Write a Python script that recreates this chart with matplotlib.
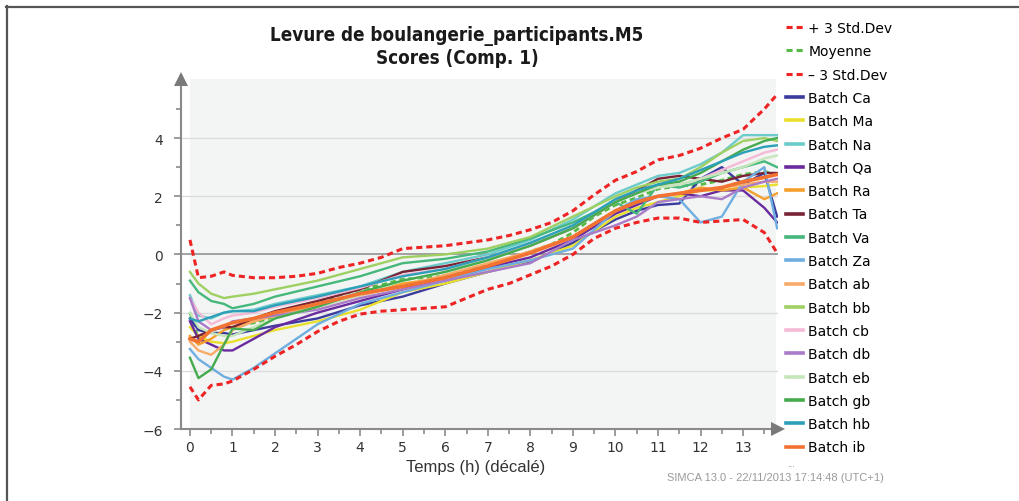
import matplotlib
matplotlib.use("Agg")
import matplotlib.pyplot as plt
from matplotlib.lines import Line2D
from matplotlib.patches import Rectangle

# control limits (read on a finer time grid)
limit_t = [0, 0.2, 0.5, 0.8, 1, 1.5, 2, 2.5, 3, 3.5, 4, 4.5, 5, 5.5, 6, 6.5, 7,
           7.5, 8, 8.5, 9, 9.5, 10, 10.5, 11, 11.5, 12, 12.5, 13, 13.5, 13.8]
upper = [0.5, -0.8, -0.75, -0.6, -0.72, -0.8, -0.8, -0.75, -0.65, -0.45, -0.3, -0.1, 0.2,
         0.25, 0.3, 0.4, 0.5, 0.65, 0.85, 1.1, 1.5, 2.05, 2.55, 2.85, 3.25, 3.4, 3.65,
         4.0, 4.3, 5.0, 5.5]
mean = [-2.0, -2.9, -2.6, -2.5, -2.5, -2.35, -2.15, -1.95, -1.7, -1.4, -1.2, -1.05, -0.85,
        -0.8, -0.75, -0.55, -0.35, -0.15, 0.1, 0.35, 0.75, 1.3, 1.7, 1.95, 2.25, 2.35,
        2.4, 2.55, 2.75, 2.85, 2.75]
lower = [-4.55, -5.0, -4.5, -4.45, -4.35, -3.95, -3.5, -3.1, -2.65, -2.3, -2.05, -1.95,
         -1.9, -1.85, -1.8, -1.5, -1.2, -1.0, -0.7, -0.4, 0.0, 0.55, 0.9, 1.1, 1.25, 1.25,
         1.1, 1.15, 1.2, 0.75, 0.05]

# batch trajectories
batch_t = [0, 0.2, 0.5, 0.8, 1, 1.5, 2, 3, 4, 5, 6, 7, 8, 9, 10, 10.5, 11, 11.5, 12,
           12.5, 13, 13.5, 13.8]
batch_names = ["Batch Ca", "Batch Ma", "Batch Na", "Batch Qa", "Batch Ra", "Batch Ta",
               "Batch Va", "Batch Za", "Batch ab", "Batch bb", "Batch cb", "Batch db",
               "Batch eb", "Batch gb", "Batch hb", "Batch ib"]
batch_colors = ["#3b3c9e", "#e8e02c", "#6ccbcb", "#6a2b9e", "#f5a02c", "#7a2236",
                "#46b87c", "#6eaee0", "#f8ab68", "#9ed062", "#f5bad5", "#a97bc9",
                "#c5e5ba", "#46ab4e", "#2c9fb9", "#f27232"]
batch_values = [
    [-2.2, -2.6, -2.7, -2.7, -2.75, -2.6, -2.45, -2.2, -1.75, -1.45, -1.0, -0.6, -0.25,
     0.4, 1.2, 1.5, 1.7, 1.75, 2.6, 3.0, 2.4, 2.8, 1.3],
    [-2.5, -2.8, -3.0, -3.05, -3.0, -2.8, -2.6, -2.3, -1.9, -1.3, -1.0, -0.6, -0.2,
     0.3, 1.3, 1.6, 1.8, 2.0, 2.2, 2.2, 2.3, 2.35, 2.4],
    [-1.4, -2.1, -2.2, -2.0, -1.95, -1.9, -1.7, -1.4, -1.1, -0.6, -0.3, 0.0, 0.5,
     1.2, 2.1, 2.4, 2.7, 2.8, 3.1, 3.5, 4.1, 4.1, 4.1],
    [-2.3, -2.9, -3.1, -3.3, -3.3, -2.9, -2.5, -2.0, -1.6, -1.2, -0.8, -0.45, -0.1,
     0.5, 1.4, 1.7, 2.0, 2.1, 2.0, 2.2, 2.2, 1.6, 1.1],
    [-2.8, -3.1, -2.9, -2.6, -2.5, -2.3, -2.1, -1.7, -1.4, -1.0, -0.8, -0.4, 0.1,
     0.6, 1.5, 1.8, 2.0, 2.1, 2.3, 2.2, 2.3, 1.9, 2.1],
    [-2.9, -2.8, -2.6, -2.5, -2.5, -2.2, -1.95, -1.6, -1.2, -0.6, -0.4, -0.1, 0.3,
     0.9, 1.8, 2.2, 2.6, 2.7, 2.6, 2.5, 2.7, 2.8, 2.8],
    [-0.9, -1.3, -1.6, -1.7, -1.85, -1.7, -1.45, -1.1, -0.75, -0.3, -0.15, 0.1, 0.55,
     1.1, 1.8, 1.4, 2.4, 2.3, 2.5, 2.8, 3.0, 3.2, 3.0],
    [-3.25, -3.6, -3.9, -4.2, -4.3, -3.9, -3.4, -2.4, -1.7, -1.3, -0.9, -0.5, -0.2,
     0.2, 1.5, 1.9, 2.0, 1.9, 1.1, 1.3, 2.5, 3.0, 0.9],
    [-3.0, -3.3, -3.45, -3.1, -2.6, -2.3, -2.1, -1.8, -1.4, -1.1, -0.7, -0.3, 0.1,
     0.6, 1.5, 1.8, 2.0, 2.1, 2.2, 2.3, 2.4, 2.5, 2.5],
    [-0.6, -1.0, -1.35, -1.5, -1.45, -1.35, -1.2, -0.9, -0.5, -0.1, 0.0, 0.2, 0.6,
     1.3, 2.0, 2.3, 2.5, 2.6, 3.0, 3.5, 3.9, 4.0, 3.9],
    [-1.5, -2.0, -2.4, -2.2, -2.1, -2.0, -1.8, -1.5, -1.15, -0.7, -0.5, -0.1, 0.35,
     0.9, 1.8, 2.1, 2.3, 2.4, 2.6, 2.9, 3.2, 3.5, 3.6],
    [-1.5, -2.3, -2.6, -2.5, -2.3, -2.2, -2.1, -1.9, -1.5, -1.2, -0.9, -0.6, -0.3,
     0.5, 1.0, 1.3, 1.8, 1.9, 2.0, 1.9, 2.3, 2.5, 2.6],
    [-2.0, -2.5, -2.7, -2.8, -2.8, -2.5, -2.2, -1.8, -1.4, -0.9, -0.6, -0.2, 0.3,
     0.9, 1.8, 2.1, 2.3, 2.4, 2.6, 2.8, 3.0, 3.3, 3.4],
    [-3.55, -4.25, -3.95, -3.1, -2.55, -2.6, -2.2, -1.8, -1.3, -0.9, -0.6, -0.2, 0.3,
     0.9, 1.8, 2.1, 2.4, 2.5, 2.8, 3.2, 3.6, 3.9, 4.0],
    [-2.2, -2.3, -2.15, -2.0, -1.95, -1.95, -1.75, -1.45, -1.1, -0.75, -0.5, -0.1, 0.4,
     1.0, 1.9, 2.2, 2.4, 2.6, 2.9, 3.2, 3.5, 3.7, 3.75],
    [-2.9, -3.0, -2.6, -2.45, -2.35, -2.2, -2.0, -1.7, -1.35, -1.1, -0.8, -0.4, 0.05,
     0.6, 1.5, 1.8, 2.0, 2.1, 2.2, 2.3, 2.5, 2.65, 2.75],
]

x_ticks = list(range(0, 14))
y_ticks = [-6, -4, -2, 0, 2, 4]

fig = plt.figure(figsize=(10.19, 5.02), dpi=100)
ax = fig.add_axes([181 / 1019, 1 - 430 / 502, 597 / 1019, 350 / 502])
ax.set_xlim(-0.21, 13.82)
ax.set_ylim(-6, 6.03)
ax.set_facecolor("white")

ax.add_patch(Rectangle((0, -6), 13.77, 12.03, facecolor="#f3f4f4", edgecolor="none", zorder=0))
for gy in [-4, -2, 2, 4]:
    ax.axhline(gy, color="#dcdcdc", lw=1.0, zorder=1)
ax.axhline(0, color="#8a8a8a", lw=1.1, zorder=1)

red = "#ee2424"
ax.plot(limit_t, upper, color=red, lw=2.2, dashes=(2.0, 1.3), zorder=5)
ax.plot(limit_t, mean, color="#55bb44", lw=2.0, dashes=(2.0, 1.3), zorder=2)
ax.plot(limit_t, lower, color=red, lw=2.2, dashes=(2.0, 1.3), zorder=5)

for name, col, vals in zip(batch_names, batch_colors, batch_values):
    lw = 2.6 if name == "Batch ib" else 1.7
    ax.plot(batch_t, vals, color=col, lw=lw, zorder=3)

# axes styling
for side in ["top", "right"]:
    ax.spines[side].set_visible(False)
for side in ["left", "bottom"]:
    ax.spines[side].set_color("#8a8a8a")
    ax.spines[side].set_linewidth(1.5)
ax.set_xticks(x_ticks)
ax.set_xticks([v + 0.5 for v in x_ticks], minor=True)
ax.set_yticks(y_ticks)
ax.set_yticks([-5, -3, -1, 1, 3, 5], minor=True)
ax.tick_params(which="major", length=5, width=1.2, color="#8a8a8a", labelsize=10,
               labelcolor="#333333")
ax.tick_params(which="minor", length=3.5, width=1.2, color="#8a8a8a")
ax.tick_params(axis="x", pad=3)
ax.tick_params(axis="y", pad=8)

# axis arrows
ax.plot([-0.21], [6.03], marker="^", markersize=10, color="#7a7a7a", clip_on=False,
        zorder=6, markeredgewidth=0)
ax.plot([13.82], [-6], marker=">", markersize=10, color="#7a7a7a", clip_on=False,
        zorder=6, markeredgewidth=0)

fig.text(457 / 1019, 1 - 47 / 502, "Levure de boulangerie_participants.M5\nScores (Comp. 1)",
         ha="center", va="center", fontsize=13.5, fontweight="bold", fontstretch="condensed",
         family=["DejaVu Sans"], color="#1a1a1a", linespacing=1.15)
fig.text(476 / 1019, 1 - 468 / 502, "Temps (h) (décalé)", ha="center", va="center",
         fontsize=12, family=["Liberation Sans", "DejaVu Sans"], color="#333333")
fig.text(667 / 1019, 1 - 478 / 502, "SIMCA 13.0 - 22/11/2013 17:14:48 (UTC+1)", ha="left",
         va="center", fontsize=8, family=["Liberation Sans", "DejaVu Sans"], color="#9a9a9a")
fig.text(791 / 1019, 1 - 465 / 502, "...", ha="center", va="center", fontsize=6,
         color="#777777")

# legend
handles = [Line2D([], [], color=red, lw=2.2, dashes=(2.0, 1.3)),
           Line2D([], [], color="#55bb44", lw=2.2, dashes=(2.0, 1.3)),
           Line2D([], [], color=red, lw=2.2, dashes=(2.0, 1.3))]
labels = ["+ 3 Std.Dev", "Moyenne", "\u2013 3 Std.Dev"]
for name, col in zip(batch_names, batch_colors):
    handles.append(Line2D([], [], color=col, lw=2.6))
    labels.append(name)
fig.legend(handles, labels, loc="upper left", bbox_to_anchor=(786 / 1019, 1 - 22 / 502),
           frameon=False, fontsize=10, handlelength=1.2, handletextpad=0.4,
           labelspacing=0.67, borderaxespad=0, borderpad=0)

# frame edges (top and left)
fig.add_artist(Line2D([6 / 1019, 1], [1 - 7.5 / 502, 1 - 7.5 / 502], color="#555555", lw=1.6))
fig.add_artist(Line2D([6.5 / 1019, 6.5 / 1019], [0, 1 - 7 / 502], color="#555555", lw=1.6))

fig.savefig("out.png", dpi=100)
